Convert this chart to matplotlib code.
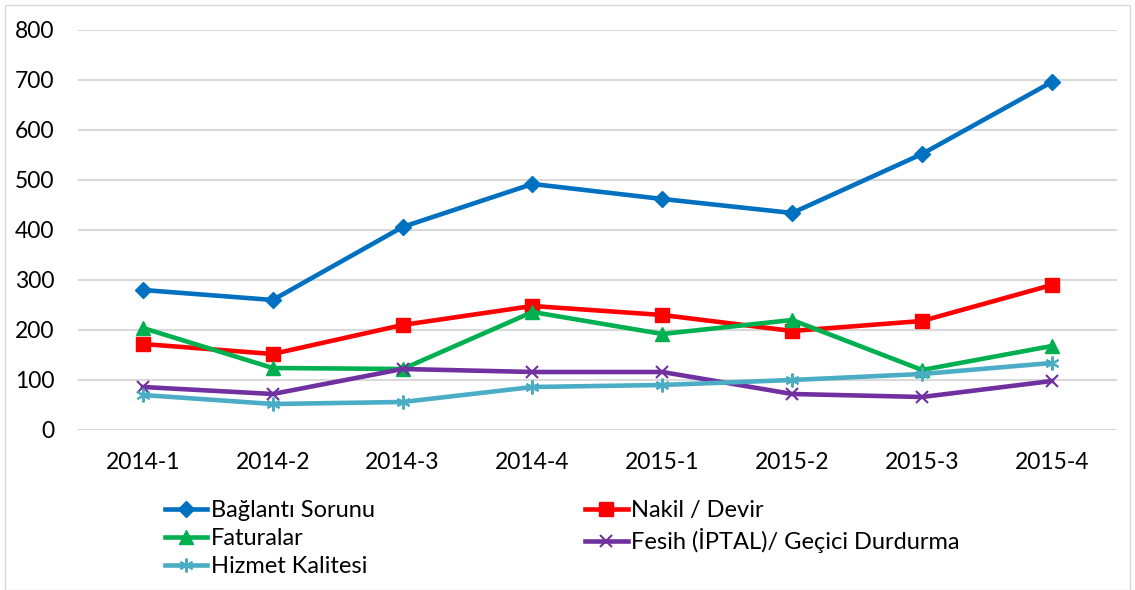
import matplotlib.pyplot as plt
from matplotlib.patches import Rectangle

plt.rcParams['font.family'] = ['Lato', 'DejaVu Sans']

quarters = ['2014-1', '2014-2', '2014-3', '2014-4', '2015-1', '2015-2', '2015-3', '2015-4']
baglanti = [280, 260, 406, 492, 462, 434, 552, 696]
nakil = [172, 152, 210, 248, 230, 198, 218, 290]
faturalar = [204, 124, 122, 236, 192, 220, 120, 168]
fesih = [86, 72, 122, 116, 116, 72, 66, 98]
hizmet = [70, 52, 56, 86, 90, 100, 112, 134]

fig = plt.figure(figsize=(11.35, 5.9), dpi=100)
ax = fig.add_axes([0.0687, 0.2712, 0.9153, 0.678])

x = range(len(quarters))
lw = 3.3
l1, = ax.plot(x, baglanti, color='#0070C0', lw=lw, marker='D', ms=8, label='Bağlantı Sorunu')
l2, = ax.plot(x, nakil, color='#FF0000', lw=lw, marker='s', ms=10, label='Nakil / Devir')
l3, = ax.plot(x, faturalar, color='#00B050', lw=lw, marker='^', ms=10, label='Faturalar')
l4, = ax.plot(x, fesih, color='#7030A0', lw=lw, marker='x', ms=9, mew=1.5, label='Fesih (İPTAL)/ Geçici Durdurma')
l5, = ax.plot(x, hizmet, color='#4BACC6', lw=lw, marker=(6, 2, 0), ms=10, mew=1.5, label='Hizmet Kalitesi')

ax.set_xlim(-0.5, 7.5)
ax.set_ylim(0, 800)
ax.set_yticks(range(0, 801, 100))
ax.set_xticks(list(x))
ax.set_xticklabels(quarters)
ax.tick_params(length=0, labelsize=16.5, colors='black')
ax.tick_params(axis='x', pad=16)
ax.tick_params(axis='y', pad=17)
ax.grid(axis='y', color='#D9D9D9', lw=1.5)
ax.set_axisbelow(True)
for s in ax.spines.values():
    s.set_visible(False)

fig.legend(handles=[l1, l3, l5, l2, l4], ncol=2, loc='upper left',
           bbox_to_anchor=(0.137, 0.168), frameon=False,
           fontsize=17, handlelength=1.8, handletextpad=0.15,
           columnspacing=8.9, labelspacing=0.3, borderaxespad=0)

fig.patches.append(Rectangle((0.004, 0.0), 0.992, 0.992, transform=fig.transFigure,
                             fill=False, edgecolor='#D9D9D9', lw=1))

fig.savefig('out.png', dpi=100)
